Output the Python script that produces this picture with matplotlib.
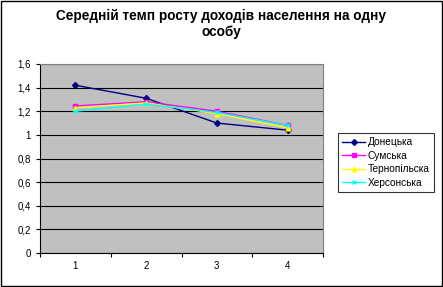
import matplotlib.pyplot as plt
from matplotlib.patches import Rectangle

cats = [1, 2, 3, 4]
donetska = [1.42, 1.31, 1.10, 1.04]
sumska = [1.245, 1.28, 1.20, 1.08]
ternopilska = [1.23, 1.27, 1.18, 1.06]
khersonska = [1.20, 1.26, 1.19, 1.08]
names = ['Донецька', 'Сумська', 'Тернопільска', 'Херсонська']

plt.rcParams['font.family'] = ['Liberation Sans', 'DejaVu Sans']

fig = plt.figure(figsize=(4.43, 2.87), dpi=100)
ax = fig.add_axes([40/443, 1-253/287, 283/443, 189/287])
ax.set_facecolor('#c0c0c0')

x = [c - 0.5 for c in cats]
ax.plot(x, donetska, color='#000080', marker='D', ms=3, lw=1, label=names[0])
ax.plot(x, sumska, color='#ff00ff', marker='s', ms=3.5, lw=1, label=names[1])
ax.plot(x, ternopilska, color='#ffff00', marker='^', ms=3.5, lw=1, label=names[2])
ax.plot(x, khersonska, color='#00ffff', marker='x', ms=3.5, lw=1, label=names[3])

ax.set_xlim(0, 4)
ax.set_ylim(0, 1.6)
ax.set_xticks([0, 1, 2, 3, 4])
ax.set_xticklabels([])
ax.set_xticks(x, minor=True)
ax.set_xticklabels([str(c) for c in cats], minor=True, fontsize=7)
ax.tick_params(axis='x', which='minor', length=0, pad=6)
ax.tick_params(axis='x', which='major', length=3, direction='out')
yt = [0, 0.2, 0.4, 0.6, 0.8, 1.0, 1.2, 1.4, 1.6]
ax.set_yticks(yt)
ax.set_yticklabels(['0', '0,2', '0,4', '0,6', '0,8', '1', '1,2', '1,4', '1,6'], fontsize=7)
ax.tick_params(axis='y', length=3, direction='out')
ax.grid(axis='y', color='black', lw=0.8)
ax.set_axisbelow(True)
for s in ['top', 'right']:
    ax.spines[s].set_color('#808080')
for s in ['left', 'bottom']:
    ax.spines[s].set_color('black')

fig.text(0.5, 1-24/287, 'Середній темп росту доходів населення на одну\nособу',
         ha='center', va='center', fontsize=9.8, fontweight='bold', linespacing=1.25)

leg = ax.legend(loc='upper left', bbox_to_anchor=(333/443, 1-128/287), bbox_transform=fig.transFigure,
                fontsize=7.3, frameon=True, fancybox=False, edgecolor='black',
                handlelength=2.3, borderpad=0.4, labelspacing=0.35, handletextpad=0.2)
leg.get_frame().set_linewidth(0.8)

fig.patches.append(Rectangle((1/443, 1/287), 441/443, 285/287, transform=fig.transFigure,
                             fill=False, ec='black', lw=1))

fig.savefig('out.png', dpi=100)
